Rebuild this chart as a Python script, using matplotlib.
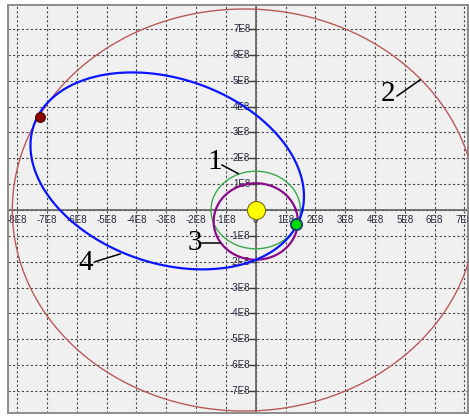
import numpy as np
import matplotlib
matplotlib.use('Agg')
import matplotlib.pyplot as plt
import matplotlib.transforms as mtransforms

# --------------------------------------------------------------------------
# Orbit data (km), focus = Sun at origin
# --------------------------------------------------------------------------
orbit_names = ['1', '2', '3', '4']
semi_major = [1.50e8, 7.785e8, 1.48e8, 4.83e8]
eccentricity = [0.0, 0.0489, 0.30, 0.69]
periapsis_deg = [0.0, 0.0, 90.0, -27.0]
orbit_colors = ['#3aa84a', '#b85a5a', '#8a0a8a', '#0a14ff']
orbit_widths = [1.0, 1.0, 1.6, 1.6]

# bodies: sun, start point (green), arrival point (dark red)
body_x = [0.0, 1.35e8, -7.24e8]
body_y = [0.0, -0.54e8, 3.59e8]

# tick labels
x_ticks = np.arange(-8, 8) * 1e8
x_labels = ['-8E8', '-7E8', '-6E8', '-5E8', '-4E8', '-3E8', '-2E8', '-1E8',
            '0', '1E8', '2E8', '3E8', '4E8', '5E8', '6E8', '7E8']
y_ticks = np.array([7, 6, 5, 4, 3, 2, 1, -1, -2, -3, -4, -5, -6, -7]) * 1e8
y_labels = ['7E8', '6E8', '5E8', '4E8', '3E8', '2E8', '1E8',
            '-1E8', '-2E8', '-3E8', '-4E8', '-5E8', '-6E8', '-7E8']

# orbit number labels: text position and leader line (data units)
label_text_xy = [(-1.36e8, 1.86e8), (4.44e8, 4.49e8), (-2.04e8, -1.26e8), (-5.70e8, -2.05e8)]
leader_start = [(-1.13e8, 1.74e8), (4.74e8, 4.41e8), (-1.80e8, -1.28e8), (-5.39e8, -2.00e8)]
leader_end = [(-0.59e8, 1.41e8), (5.51e8, 5.03e8), (-1.20e8, -1.28e8), (-4.55e8, -1.70e8)]

# --------------------------------------------------------------------------
# Figure
# --------------------------------------------------------------------------
fig = plt.figure(figsize=(4.69, 4.17), dpi=100)
ax = fig.add_axes([8.3 / 469, 1 - 412.7 / 417, (468 - 8.3) / 469, (412.7 - 5) / 417])
ax.set_facecolor('#f0f0f0')
ax.set_xlim(-8.30e8, 7.12e8)
ax.set_ylim(-7.84e8, 7.93e8)
ax.set_xticks([])
ax.set_yticks([])
for s in ax.spines.values():
    s.set_color('#8c8c8c')
    s.set_linewidth(1.4)

# dashed grid
for xv in x_ticks:
    ax.axvline(xv, color='#484848', lw=0.8, ls=(0, (2, 2)), zorder=1)
for yv in list(y_ticks) + [0.0]:
    ax.axhline(yv, color='#484848', lw=0.8, ls=(0, (2, 2)), zorder=1)

# axes through origin
ax.axhline(0, color='#606060', lw=1.2, zorder=2)
ax.axvline(0, color='#606060', lw=1.2, zorder=2)

# tick labels
lab_kw = dict(fontsize=7, family='Liberation Sans', color='#2a2a3a', clip_on=True, zorder=3)
tr_x = mtransforms.offset_copy(ax.transData, fig=fig, x=0, y=-9.5, units='dots')
for xv, lab in zip(x_ticks, x_labels):
    ax.text(xv, 0, lab, transform=tr_x, ha='center', va='center', **lab_kw)
tr_y = mtransforms.offset_copy(ax.transData, fig=fig, x=-5.5, y=0, units='dots')
for yv, lab in zip(y_ticks, y_labels):
    ax.text(0, yv, lab, transform=tr_y, ha='right', va='center', **lab_kw)
    ax.plot([-0.2e8, 0], [yv, yv], color='#404040', lw=1.0, zorder=2)

# orbits
theta = np.linspace(0, 2 * np.pi, 1441)
for a, e, w, c, lw in zip(semi_major, eccentricity, periapsis_deg, orbit_colors, orbit_widths):
    r = a * (1 - e ** 2) / (1 + e * np.cos(theta - np.deg2rad(w)))
    ax.plot(r * np.cos(theta), r * np.sin(theta), color=c, lw=lw, zorder=4)

# bodies
ax.plot(body_x[0], body_y[0], 'o', ms=13, mfc='#ffff00', mec='#7a6a20', mew=0.8, zorder=5)
ax.plot(body_x[1], body_y[1], 'o', ms=8, mfc='#00e000', mec='#1d4a66', mew=1.5, zorder=5)
ax.plot(body_x[2], body_y[2], 'o', ms=7, mfc='#8a0000', mec='#4a0000', mew=0.8, zorder=5)

# orbit number labels
for name, txy, p0, p1 in zip(orbit_names, label_text_xy, leader_start, leader_end):
    ax.plot([p0[0], p1[0]], [p0[1], p1[1]], color='black', lw=1.1, zorder=6)
    ax.text(txy[0], txy[1], name, family='Liberation Serif', fontsize=21,
            ha='center', va='center', color='black', zorder=6)

fig.savefig('out.png', dpi=100)
